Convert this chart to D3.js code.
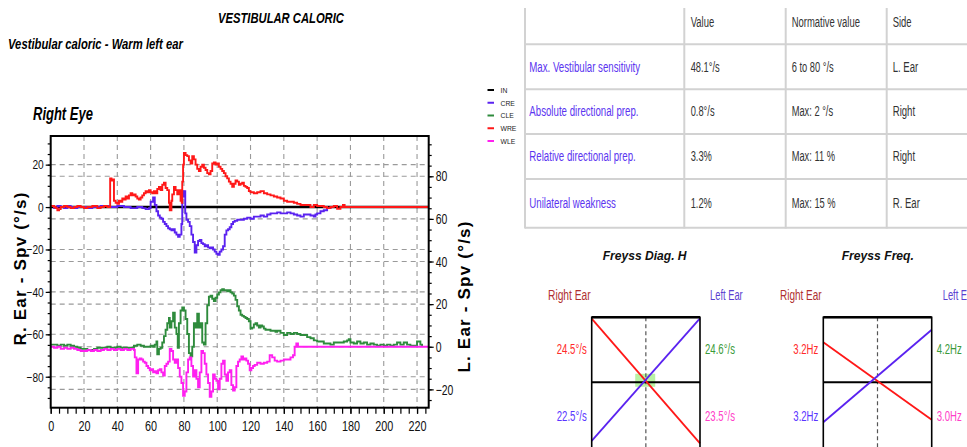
<!DOCTYPE html>
<html><head><meta charset="utf-8">
<script src="https://cdn.jsdelivr.net/npm/d3@7"></script>
<style>
body{margin:0;background:#fff;}
svg{display:block;font-family:"Liberation Sans",Arial,sans-serif;}
</style>
</head><body>
<svg id="c" width="967" height="447"></svg>
<script>
// ---------------- DATA ----------------
const xTickValues = [0,20,40,60,80,100,120,140,160,180,200,220];
const leftTickValues = [20,0,-20,-40,-60,-80];
const rightTickValues = [80,60,40,20,0,-20];
const seriesNames = ["IN","CRE","CLE","WRE","WLE"];

const IN = [[0,0],[227,0]];
const CRE = [[0,0.5],[2,-0.5],[4,0.5],[6,0],[8,-0.5],[10,0.5],[12,0],[14,-0.5],[16,0],[20,0],[22,-0.5],[25,0],[30,0.5],[35,0],[40,0.5],[44,0],[48,-0.5],[52,0],[55,-0.5],[57,-1],[59,-0.5],[60,2.5],[61.5,4.5],[62.5,1],[63.5,-2],[64.5,-4],[65.5,-5],[66.5,-5.5],[67.5,-7],[68.5,-8],[69.5,-9],[70.5,-10],[71.5,-10.5],[72.5,-11],[73.5,-10.5],[74.5,-12],[75.5,-13],[76.5,-14],[77.5,-13],[78.5,-8],[79,5],[80,7.5],[80.8,-3],[81.5,-6],[82.5,-7],[83.5,-9],[84.5,-13],[85.5,-16.5],[86.5,-21.5],[87.5,-18],[88.5,-16],[89.5,-15.5],[90.5,-17],[91.5,-17.5],[92.5,-18.5],[93.5,-18],[94.5,-19],[95.5,-19.5],[96.5,-19],[97.5,-20],[98.5,-21],[99.5,-22],[100.5,-22.5],[101.5,-21],[102.5,-20],[103.5,-18.5],[104.5,-13],[105.5,-11],[106.5,-10.5],[107.5,-9.5],[108.5,-8],[109.5,-7],[110.5,-6.5],[112,-6],[114,-6],[116,-5.5],[118,-5],[120,-5.5],[122,-4.5],[124,-4.5],[126,-4],[128,-4.5],[130,-3.5],[132,-3],[134,-3],[136,-2.5],[138,-3],[140,-3],[142,-2.5],[144,-3],[146,-3.5],[148,-4],[150,-4.5],[152,-3.5],[154,-3.5],[156,-4],[158,-4.5],[159,-3.5],[160,-3],[162,-2],[164,-1.5],[166,-0.5],[168,0]];
const CLE = [[0,1],[2,1],[4,0.5],[6,1],[8,0.5],[10,1],[12,0.5],[14,0],[16,-0.5],[18,-1],[20,-1],[22,-1.5],[24,-1.5],[26,-1],[28,-0.5],[30,-0.5],[32,-0.5],[34,0],[36,-0.5],[38,-0.5],[40,0],[42,-0.5],[44,-0.5],[46,-0.5],[48,-0.5],[50,0.5],[52,1],[54,0.5],[56,0],[58,0],[60,0.5],[61.5,0],[62.5,1],[63.5,2.5],[64,-3.5],[65,-1],[66,-0.5],[67,2],[68,5],[69,8],[70,11],[71,13.5],[71.5,9],[72.5,12],[73.5,16],[74.5,9],[75.5,6],[76.3,-0.5],[77,11],[78,17],[79,18.5],[80,17],[81,13],[82,6],[83,-3],[84,-4.5],[85,0],[86,11],[87,9],[88,15.5],[89,9],[90,11],[91,2],[92,1],[93,11],[94,19.5],[95,23.5],[96,24],[97,22.5],[98,21.5],[99,23],[100,24.5],[101,25.5],[102,26.5],[103,27],[104,26.5],[105,26.5],[106,26],[107,26.5],[108,25.5],[109,25],[110,24],[111,22],[112,19],[113,17],[114,15],[115,14.5],[116,14],[117,13.5],[118,13],[119,12],[120,8.5],[121,9],[122,10.5],[123,11],[124,10],[125,9],[126,10],[127,9.5],[128,8.5],[129,8],[130,8],[132,7.5],[134,7.5],[135,7],[136,7.5],[138,6.5],[140,5.5],[142,6.5],[144,6],[146,6.5],[148,6],[150,5.5],[152,5.5],[154,4.5],[156,4],[158,3],[160,2.5],[162,2.5],[164,1.5],[166,1.5],[168,1],[170,2],[172,2],[174,2],[176,2.5],[178,3],[179,3.5],[180,2],[182,1.5],[184,2.5],[186,1.5],[188,2],[190,1],[192,1.5],[194,1],[196,0.5],[198,1],[200,0.5],[202,1],[204,0.5],[206,1],[208,2],[210,1],[212,2],[214,1],[216,0.5],[218,0.5],[220,2.5],[222,1],[223,0]];
const WRE = [[0,0.5],[2,0],[3,-0.5],[4,-1.5],[5,-1],[6,0],[8,0.5],[10,0],[12,-0.5],[14,0],[16,0.5],[18,0],[20,-0.5],[22,0],[25,0.5],[28,-0.5],[30,0],[32,0.5],[34,0],[35.7,13.5],[36.5,12.5],[37.5,13],[38,3],[39,2],[40,1.5],[41,3],[42,2.5],[43,4],[44,3.5],[45,5],[46,4],[47,5.5],[48,6.5],[49,5.5],[50,6],[51,5],[52,4],[53,3.5],[54,4.5],[55,5.5],[56,6.5],[57,7.5],[58,7],[59,8],[60,7],[61,6.5],[62,7.5],[63,6.5],[64,8.5],[65,9.5],[66,8],[67,10.5],[68,11.5],[69,9],[70,8],[71,2],[71.5,-1.5],[72.5,3],[73,6],[74,9.5],[75,8],[76,6],[77,8],[78,3],[78.7,2],[79,12],[79.5,20],[80,25.5],[81,24.5],[82,24],[83,22],[84,20.5],[85,24],[86,22.5],[87,20],[88,18],[89,17],[90,19],[91,20],[92,18.5],[93,17.5],[94,16],[95,15.5],[96,17],[97,20.5],[98,21],[99,20],[100,20.5],[101,19],[102,18],[103,17],[104,16],[105,14.5],[106,13.5],[107,12],[108,11],[109,9.5],[110,11],[111,12.5],[112,12],[113,10.5],[114,11],[115,11.5],[116,10],[117,9.5],[118,9],[119,7.5],[120,7],[122,6.5],[124,7],[126,7.5],[128,6.5],[130,6],[132,5.5],[134,5],[136,4.5],[138,4],[140,3],[142,2.5],[144,2.5],[146,2],[148,1.5],[150,1],[152,1],[154,1],[156,0],[158,1],[160,0.5],[162,0.5],[164,0],[166,-0.5],[168,0],[170,0.5],[172,-0.8],[174,0],[175.5,1],[176.5,0],[227,0]];
const WLE = [[0,0],[2,-0.5],[4,0],[6,-1],[8,-0.5],[10,-1],[12,-0.5],[14,-1],[16,-1.5],[18,-2],[20,-2],[22,-1.5],[24,-2],[26,-1.5],[28,-2],[30,-1.5],[32,-1],[34,-1.5],[36,-1],[38,-1.5],[40,-1],[42,-1.5],[44,-1],[46,-1.5],[48,-1],[50,-1.5],[50.5,-5],[51.5,-12.5],[52.5,-6],[53.5,-5.5],[54.5,-6],[55.5,-7],[56.5,-7.5],[57.5,-9],[58.5,-10],[59.5,-11],[60.5,-10.5],[61.5,-12],[62.5,-11.5],[63.5,-12.5],[64.5,-11],[65.5,-10.5],[66.5,-12],[67.5,-13.5],[68.5,-9],[69.5,-8],[70.5,-7],[71.5,-1],[72.5,-2],[73.5,-6],[74.5,-7.5],[75.5,-6],[76.5,-10],[77.5,-14],[78.5,-17],[79.5,-23],[80.5,-21],[81.5,-12],[82.5,-6],[83.5,-5],[84.5,-9],[85.5,-14],[86.5,-11],[87.5,-15],[88.5,-19],[89.5,-12],[90.5,-2],[91.5,-3],[92.5,-8],[93.5,-13],[94.5,-17],[95.5,-23.5],[96.5,-21],[97.5,-13],[98.5,-15],[99.5,-16],[100.5,-20],[101.5,-15],[102.5,-8],[103.5,-6.5],[104.5,-13],[105.5,-16],[106.5,-12],[107.5,-11],[108.5,-18],[109.5,-20.5],[110.5,-19],[111.5,-9],[112.5,-7],[113.5,-6],[114.5,-4.5],[115.5,-6],[116.5,-5.5],[117.5,-6.5],[118.5,-8],[119.5,-11],[120.5,-10],[121.5,-9],[122.5,-8.5],[124,-7.5],[126,-8],[128,-7.5],[130,-7],[131.5,-4],[133,-5],[134.5,-6.5],[136,-7],[138,-6.5],[140,-6],[142,-6],[144,-5],[145.5,-4],[146.5,0],[147.5,1.5],[148.5,0],[227,0]];

const tableHeaders = ["", "Value", "Normative value", "Side"];
const tableLabels = ["Max. Vestibular sensitivity","Absolute directional prep.","Relative directional prep.","Unilateral weakness"];
const tableValues = ["48.1°/s","0.8°/s","3.3%","1.2%"];
const tableNorms = ["6 to 80 °/s","Max: 2 °/s","Max: 11 %","Max: 15 %"];
const tableSides = ["L. Ear","Right","Right","R. Ear"];

const diagLeft = [24.5, 22.5];   // top: warm right, bottom: cold right
const diagRight = [24.6, 23.5];  // top: cold left, bottom: warm left
const freqLeft = [3.2, 3.2];
const freqRight = [4.2, 3.0];

// ---------------- STYLE ----------------
const colors = {IN:"#000000", CRE:"#5a22f0", CLE:"#2e8b3c", WRE:"#ff1818", WLE:"#ff20f0"};
const axisOnRight = {IN:false, CRE:false, CLE:true, WRE:false, WLE:true};
const svg = d3.select("#c");

// condensed text: horizontal scale transform (keeps real bounding boxes)
function T(x,y,s,o){
  const t = svg.append("text").attr("x",0).attr("y",0).text(s)
    .attr("font-size",o.size).attr("fill",o.fill||"#000")
    .attr("font-weight",o.weight||"normal").attr("font-style",o.style||"normal")
    .attr("text-anchor",o.anchor||"start");
  let f = o.f || 1;
  if(o.w){ f = o.w / t.node().getComputedTextLength(); }
  t.attr("transform",`translate(${x},${y}) scale(${f},1)`);
  return t;
}
function squeezeTicks(g, f){
  g.selectAll("text").each(function(){
    const el = d3.select(this);
    const xx = +el.attr("x") || 0;
    el.attr("x", xx / f).attr("transform", `scale(${f},1)`);
  });
}

// ---------------- TITLES ----------------
T(281,23,"VESTIBULAR CALORIC",{size:15.5,weight:"bold",style:"italic",anchor:"middle",w:126});
T(8,49,"Vestibular caloric - Warm left ear",{size:14.5,weight:"bold",style:"italic",w:175});
T(33,120,"Right Eye",{size:18,weight:"bold",style:"italic",w:60});

// ---------------- MAIN PLOT ----------------
const L=50.7, R=428.7, TOP=136, BOT=407.7;
const x = d3.scaleLinear().domain([0,227]).range([L,R]);
const yL = d3.scaleLinear().domain([-94.6,33.5]).range([BOT,TOP]);
const yR = d3.scaleLinear().domain([-28.6,98.9]).range([BOT,TOP]);

const grid = svg.append("g").attr("stroke","#9a9a9a").attr("stroke-width",1.1).attr("stroke-dasharray","5,4");
xTickValues.filter(d=>d>0).forEach(d=>grid.append("line").attr("x1",x(d)).attr("x2",x(d)).attr("y1",TOP).attr("y2",BOT));
leftTickValues.filter(d=>d!==0).forEach(d=>grid.append("line").attr("x1",L).attr("x2",R).attr("y1",yL(d)).attr("y2",yL(d)));
rightTickValues.forEach(d=>grid.append("line").attr("x1",L).attr("x2",R).attr("y1",yR(d)).attr("y2",yR(d)));

svg.append("clipPath").attr("id","pc").append("rect").attr("x",L).attr("y",TOP).attr("width",R-L).attr("height",BOT-TOP);
const traces = {IN, CRE, CLE, WRE, WLE};
const tg = svg.append("g").attr("clip-path","url(#pc)");
seriesNames.forEach(n=>{
  const ys = axisOnRight[n] ? yR : yL;
  const line = d3.line().x(d=>x(d[0])).y(d=>ys(d[1])).curve(d3.curveStepAfter);
  tg.append("path").attr("d",line(traces[n])).attr("fill","none")
    .attr("stroke",colors[n]).attr("stroke-width", n==="IN"?2.4:1.9);
});

// frame
svg.append("rect").attr("x",L).attr("y",TOP).attr("width",R-L).attr("height",BOT-TOP)
  .attr("fill","none").attr("stroke","#000").attr("stroke-width",2);

function styleAxis(g){ g.select(".domain").remove(); g.selectAll("line").attr("stroke","#000").attr("stroke-width",1.2); }
// x axis
const gx1 = svg.append("g").attr("transform",`translate(0,${BOT})`).call(d3.axisBottom(x).tickValues(d3.range(0,226,5)).tickFormat("").tickSize(6)); styleAxis(gx1);
const gx = svg.append("g").attr("transform",`translate(0,${BOT})`).call(d3.axisBottom(x).tickValues(xTickValues).tickSize(6).tickPadding(6)); styleAxis(gx);
gx.selectAll("text").attr("font-size",15.5).attr("font-family","Liberation Sans, Arial").attr("fill","#111");
squeezeTicks(gx,0.7);
// left axis
const gl1 = svg.append("g").attr("transform",`translate(${L},0)`).call(d3.axisLeft(yL).tickValues(d3.range(-90,31,5)).tickFormat("").tickSize(3)); styleAxis(gl1);
const gl = svg.append("g").attr("transform",`translate(${L},0)`).call(d3.axisLeft(yL).tickValues(leftTickValues).tickSize(5).tickPadding(2)); styleAxis(gl);
gl.selectAll("text").attr("font-size",13.5).attr("font-family","Liberation Sans, Arial").attr("fill","#111");
squeezeTicks(gl,0.75);
// right axis
const gr1 = svg.append("g").attr("transform",`translate(${R},0)`).call(d3.axisRight(yR).tickValues(d3.range(-25,96,5)).tickFormat("").tickSize(3)); styleAxis(gr1);
const gr = svg.append("g").attr("transform",`translate(${R},0)`).call(d3.axisRight(yR).tickValues(rightTickValues).tickSize(5).tickPadding(2)); styleAxis(gr);
gr.selectAll("text").attr("font-size",14.5).attr("font-family","Liberation Sans, Arial").attr("fill","#111");
squeezeTicks(gr,0.72);

// axis titles
svg.append("text").attr("transform","translate(25.5,268.5) rotate(-90)").attr("text-anchor","middle")
  .attr("font-size",17).attr("font-weight","bold").attr("letter-spacing",1.2).text("R. Ear - Spv (°/s)");
svg.append("text").attr("transform","translate(469.5,296.5) rotate(-90)").attr("text-anchor","middle")
  .attr("font-size",17).attr("font-weight","bold").attr("letter-spacing",1.2).text("L. Ear - Spv (°/s)");

// legend
seriesNames.forEach((n,i)=>{
  const yy = 90 + i*12.75;
  svg.append("line").attr("x1",487.5).attr("x2",494).attr("y1",yy).attr("y2",yy).attr("stroke",colors[n]).attr("stroke-width",2);
  T(500.5,yy+2.8,n,{size:8,fill:"#222",f:0.85});
});

// ---------------- TABLE ----------------
const colX = [525,684.3,785.7,886.7];
const rowY = [44.3,89.3,134,179,227.7];
const tl = svg.append("g").attr("stroke","#d2d2d2").attr("stroke-width",2);
colX.forEach(cx=>tl.append("line").attr("x1",cx).attr("x2",cx).attr("y1",8).attr("y2",228.5));
rowY.forEach(ry=>tl.append("line").attr("x1",525).attr("x2",967).attr("y1",ry).attr("y2",ry));
const tx = [529.3,690.7,791.7,892.7];
const headBase = 26.5;
const rowBase = [71.5,116,160.5,208.3];
tableHeaders.forEach((h,i)=>{ if(h) T(tx[i],headBase,h,{size:15.5,fill:"#333",f:0.61}); });
tableLabels.forEach((s,i)=>{
  T(tx[0],rowBase[i],s,{size:15.5,fill:"#5b35f0",f:0.625});
  T(tx[1],rowBase[i],tableValues[i],{size:15.5,fill:"#333",f:0.6});
  T(tx[2],rowBase[i],tableNorms[i],{size:15.5,fill:"#333",f:0.6});
  T(tx[3],rowBase[i],tableSides[i],{size:15.5,fill:"#333",f:0.62});
});

// ---------------- FREYSS DIAGRAMS ----------------
function freyss(x0,x1,dom,leftVals,rightVals,units,highlight,title,titleX,titleW,labels){
  const fx = d3.scaleLinear().domain([0,1]).range([x0,x1]);
  const fy = d3.scaleLinear().domain([-dom,dom]).range([447.3,317.3]);
  T(titleX,259.5,title,{size:13.5,weight:"bold",style:"italic",fill:"#111",w:titleW});
  T(labels.rx,300,"Right Ear",{size:14.5,fill:"#b03030",w:labels.rw});
  T(labels.lx,300,"Left Ear",{size:14.5,fill:"#5b3fd0",w:32.7});
  const r1=[fx(0),fy(leftVals[0])], r2=[fx(1),fy(-rightVals[1])];
  const b1=[fx(0),fy(-leftVals[1])], b2=[fx(1),fy(rightVals[0])];
  const sr=(r2[1]-r1[1]), sb=(b2[1]-b1[1]);
  const tI=(b1[1]-r1[1])/(sr-sb);
  const ix=fx(tI), iy=r1[1]+sr*tI;
  if(highlight) svg.append("rect").attr("x",ix-10).attr("y",iy-6.5).attr("width",20).attr("height",13).attr("fill","#b9f2a4");
  svg.append("line").attr("x1",fx(0.5)).attr("x2",fx(0.5)).attr("y1",317.3).attr("y2",447.3)
    .attr("stroke","#555").attr("stroke-width",1.2).attr("stroke-dasharray","4,3");
  svg.append("line").attr("x1",x0).attr("x2",x1).attr("y1",fy(0)).attr("y2",fy(0)).attr("stroke","#000").attr("stroke-width",2);
  svg.append("line").attr("x1",r1[0]).attr("y1",r1[1]).attr("x2",r2[0]).attr("y2",r2[1]).attr("stroke","#ff1818").attr("stroke-width",1.8);
  svg.append("line").attr("x1",b1[0]).attr("y1",b1[1]).attr("x2",b2[0]).attr("y2",b2[1]).attr("stroke","#5a22f0").attr("stroke-width",1.8);
  svg.append("rect").attr("x",x0).attr("y",317.3).attr("width",x1-x0).attr("height",140)
    .attr("fill","none").attr("stroke","#000").attr("stroke-width",1.6);
  svg.append("line").attr("x1",x0).attr("x2",x1).attr("y1",317.3).attr("y2",317.3).attr("stroke","#000").attr("stroke-width",2.4);
  const fmt = v => units==="Hz" ? v.toFixed(1)+"Hz" : v.toFixed(1)+"°/s";
  const lw = units==="Hz" ? 25 : 30;
  T(x0-5,353.5,fmt(leftVals[0]),{size:14.5,fill:"#ff2a2a",anchor:"end",w:lw});
  T(x0-5,420.5,fmt(leftVals[1]),{size:14.5,fill:"#5a35ff",anchor:"end",w:lw});
  T(x1+5,353.5,fmt(rightVals[0]),{size:14.5,fill:"#3a9a3a",w:lw});
  T(x1+5,420.5,fmt(rightVals[1]),{size:14.5,fill:"#ff40c8",w:lw});
}
freyss(591.7,700,25,diagLeft,diagRight,"deg",true,"Freyss Diag. H",602.7,84,{rx:548,rw:42.7,lx:710});
freyss(823.3,931.7,5.2,freqLeft,freqRight,"Hz",false,"Freyss Freq.",841.7,72.3,{rx:780,rw:41.7,lx:942.7});
</script>
</body></html>
